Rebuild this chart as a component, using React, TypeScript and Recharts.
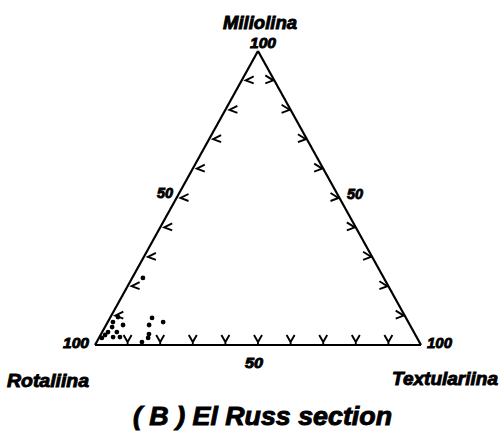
import React from 'react';
import { ScatterChart, Scatter, XAxis, YAxis, ReferenceLine } from 'recharts';

// Foraminifera suborder percentages per sample (each row sums to 100)
const miliolina = [22.8, 9.5, 7.8, 6.8, 9.2, 7.8, 6.8, 6.1, 4.4, 4.4, 3.4, 2.7, 2.7, 2.4, 1.0, 3.7, 2.4];
const textulariina = [3.3, 2.3, 1.6, 5.2, 12.9, 17.0, 13.2, 2.2, 1.8, 4.5, 1.4, 4.2, 6.3, 0.9, 13.9, 14.7, 15.1];
const rotaliina = [73.9, 88.2, 90.6, 88.0, 77.9, 75.2, 80.0, 91.7, 93.8, 91.1, 95.2, 93.1, 91.0, 96.7, 85.1, 81.6, 82.5];

const tickSteps = [10, 20, 30, 40, 50, 60, 70, 80, 90];

const FONT = '"Liberation Sans", Arial, sans-serif';

// ternary (M = top, T = right, R = left) -> plot space
const toXY = (m: number, t: number) => ({ x: t + m / 2, y: m });

const samples = miliolina.map((m, i) => ({ ...toXY(m, textulariina[i]), r: rotaliina[i] }));

const leftTicks = tickSteps.map((v) => ({ ...toXY(v, 0), side: 'left' }));
const rightTicks = tickSteps.map((v) => ({ ...toXY(v, 100 - v), side: 'right' }));
const bottomTicks = tickSteps.map((v) => ({ ...toXY(0, v), side: 'bottom' }));

const Dot = (props: any) => <circle cx={props.cx} cy={props.cy} r={2.4} fill="#000" />;

const Chevron = (props: any) => {
  const { cx, cy, payload } = props;
  let d = '';
  if (payload.side === 'left') d = `M${cx + 12} ${cy - 4} L${cx + 4} ${cy} L${cx + 12} ${cy + 3}`;
  else if (payload.side === 'right') d = `M${cx - 9} ${cy - 5} L${cx - 1} ${cy} L${cx - 9} ${cy + 3}`;
  else d = `M${cx - 4} ${cy - 10} L${cx} ${cy - 3} L${cx + 4} ${cy - 10} M${cx} ${cy - 3} L${cx} ${cy}`;
  return <path d={d} fill="none" stroke="#000" strokeWidth={1.9} />;
};

const Txt = ({ x, y, w, size, children }: any) => (
  <text
    x={x}
    y={y}
    fontFamily={FONT}
    fontSize={size}
    fontWeight="bold"
    fontStyle="italic"
    fill="#000"
    stroke="#000"
    strokeWidth={0.9}
    textLength={w}
    lengthAdjust="spacingAndGlyphs"
  >
    {children}
  </text>
);

const edge = { stroke: '#000', strokeWidth: 2.2, ifOverflow: 'visible' as const };

export default function App() {
  return (
    <div style={{ position: 'absolute', left: 0, top: 0, width: 500, height: 432, background: '#fff' }}>
      <ScatterChart width={500} height={432} margin={{ top: 51, right: 79, bottom: 87, left: 95 }}>
        <XAxis type="number" dataKey="x" domain={[0, 100]} hide />
        <YAxis type="number" dataKey="y" domain={[0, 100]} hide />
        <ReferenceLine segment={[{ x: 0, y: 0 }, { x: 100, y: 0 }]} {...edge} />
        <ReferenceLine segment={[{ x: 0, y: 0 }, { x: 50, y: 100 }]} {...edge} />
        <ReferenceLine segment={[{ x: 100, y: 0 }, { x: 50, y: 100 }]} {...edge} />
        <Scatter data={leftTicks} shape={Chevron} isAnimationActive={false} />
        <Scatter data={rightTicks} shape={Chevron} isAnimationActive={false} />
        <Scatter data={bottomTicks} shape={Chevron} isAnimationActive={false} />
        <Scatter data={samples} shape={Dot} isAnimationActive={false} />
        <Txt x={223} y={29} w={74} size={18}>Miliolina</Txt>
        <Txt x={250} y={48} w={26} size={15}>100</Txt>
        <Txt x={157} y={198} w={16} size={14}>50</Txt>
        <Txt x={347} y={199} w={16} size={14}>50</Txt>
        <Txt x={245} y={368} w={18} size={14}>50</Txt>
        <Txt x={63} y={348} w={26} size={15}>100</Txt>
        <Txt x={427} y={348} w={25} size={15}>100</Txt>
        <Txt x={7} y={387} w={82} size={18}>Rotaliina</Txt>
        <Txt x={392} y={385} w={106} size={18}>Textulariina</Txt>
        <Txt x={133} y={425} w={259} size={25}>( B )  El Russ section</Txt>
      </ScatterChart>
    </div>
  );
}
